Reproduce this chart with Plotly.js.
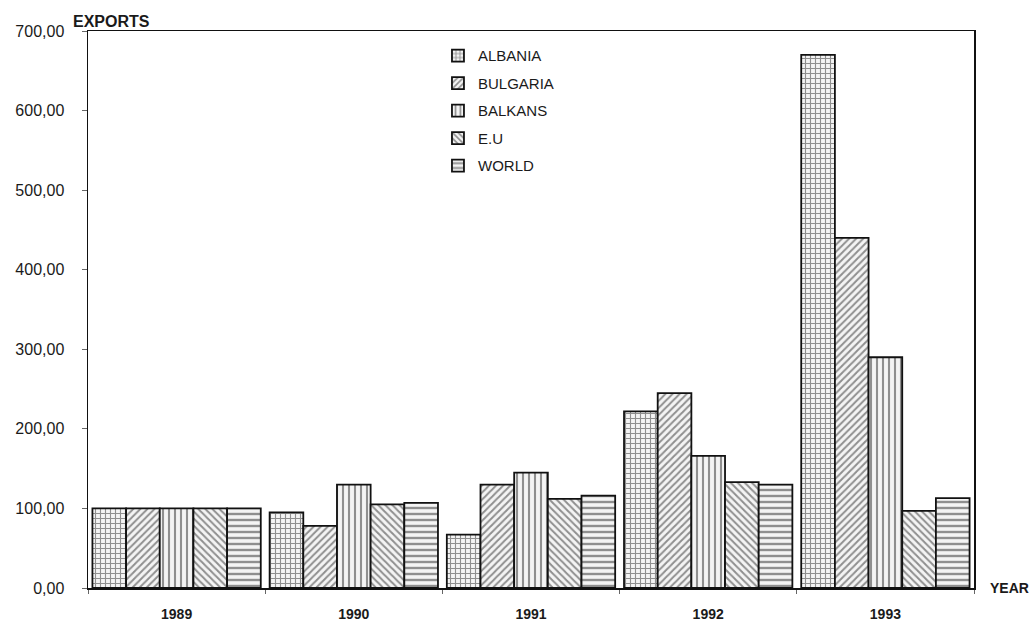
<!DOCTYPE html>
<html>
<head>
<meta charset="utf-8">
<script src="https://cdn.plot.ly/plotly-3.0.1.min.js"></script>
<style>html,body{margin:0;padding:0;background:#fff;}#chart{width:1033px;height:627px;}</style>
</head>
<body>
<div id="chart"></div>
<script>
const years = ['1989', '1990', '1991', '1992', '1993'];
const seriesNames = ['ALBANIA', 'BULGARIA', 'BALKANS', 'E.U', 'WORLD'];
const albania = [100, 95, 67, 222, 670];
const bulgaria = [100, 78, 130, 245, 440];
const balkans = [100, 130, 145, 166, 290];
const eu = [100, 105, 112, 133, 97];
const world = [100, 107, 116, 130, 113];
const yTicks = [0, 100, 200, 300, 400, 500, 600, 700];

const values = [albania, bulgaria, balkans, eu, world];
const shapes = ['+', '/', '|', '\\', '-'];
const sizes = [5, 5, 6, 5, 6];
const solid = [0.4, 0.4, 0.35, 0.4, 0.4];

const traces = seriesNames.map((name, i) => ({
  type: 'bar',
  name: name,
  x: years,
  y: values[i],
  legendgroup: 'g' + i,
  marker: {
    color: '#ffffff',
    line: {color: '#111', width: 1.8},
    pattern: {shape: shapes[i], fgcolor: '#2a2a2a', bgcolor: '#f4f4f4', size: sizes[i], solidity: solid[i], fillmode: 'overlay'}
  },
  hoverinfo: 'x+y+name'
}));

const layout = {
  width: 1033, height: 627,
  margin: {l: 88, r: 59, t: 31, b: 39},
  paper_bgcolor: '#fff', plot_bgcolor: '#fff',
  separators: ',.',
  barmode: 'group',
  bargap: 0.05,
  bargroupgap: 0,
  font: {family: 'Liberation Sans, Arial, sans-serif', color: '#1a1a1a'},
  xaxis: {
    type: 'category',
    showline: true, linecolor: '#111', linewidth: 1.5, mirror: true,
    ticks: 'outside', tickson: 'boundaries', ticklen: 4, tickcolor: '#666',
    ticklabelstandoff: 13,
    tickfont: {size: 14, family: 'Liberation Sans, Arial, sans-serif', weight: 'bold'},
    showgrid: false, zeroline: false
  },
  yaxis: {
    range: [0, 700],
    tickvals: yTicks,
    tickformat: '.2f',
    showline: true, linecolor: '#111', linewidth: 1.5, mirror: true,
    ticks: 'outside', ticklen: 5, tickcolor: '#666',
    ticklabelstandoff: 14,
    tickfont: {size: 16},
    showgrid: false, zeroline: false
  },
  legend: {
    x: 0.395, y: 0.985, xanchor: 'left', yanchor: 'top',
    bgcolor: 'rgba(255,255,255,0)',
    font: {size: 15},
    tracegroupgap: 5,
    itemwidth: 30
  },
  annotations: [
    {text: '<b>EXPORTS</b>', xref: 'paper', yref: 'paper', x: 0, y: 1.0, xanchor: 'left', yanchor: 'bottom', showarrow: false, font: {size: 16}, xshift: -17, yshift: -1},
    {text: '<b>YEAR</b>', xref: 'paper', yref: 'paper', x: 1.0, y: 0, xanchor: 'right', yanchor: 'middle', showarrow: false, font: {size: 14}, xshift: 57, yshift: 0}
  ]
};

Plotly.newPlot('chart', traces, layout, {displayModeBar: false, staticPlot: true});
</script>
</body>
</html>
